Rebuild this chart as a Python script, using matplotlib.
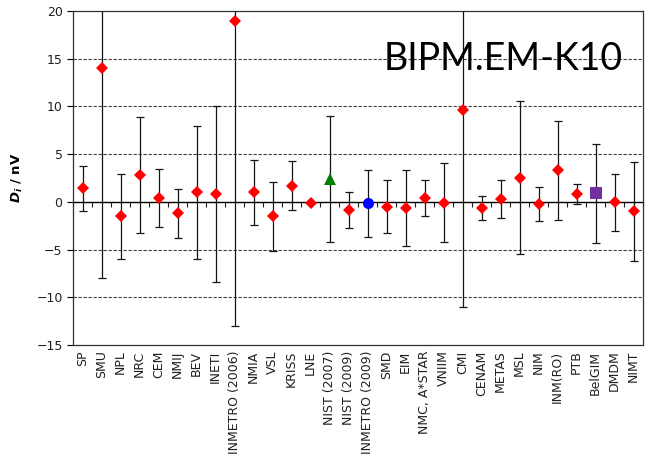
import numpy as np
import matplotlib
matplotlib.use('Agg')
import matplotlib.pyplot as plt

# lab names, degrees of equivalence and expanded uncertainties (nV)
labs = ['SP', 'SMU', 'NPL', 'NRC', 'CEM', 'NMIJ', 'BEV', 'INETI', 'INMETRO (2006)',
        'NMIA', 'VSL', 'KRISS', 'LNE', 'NIST (2007)', 'NIST (2009)', 'INMETRO (2009)',
        'SMD', 'EIM', 'NMC, A*STAR', 'VNIIM', 'CMI', 'CENAM', 'METAS', 'MSL', 'NIM',
        'INM(RO)', 'PTB', 'BelGIM', 'DMDM', 'NIMT']
di = [1.4, 14.0, -1.5, 2.8, 0.4, -1.2, 1.0, 0.8, 19.0,
      1.0, -1.5, 1.7, -0.1, 2.4, -0.85, -0.15,
      -0.5, -0.65, 0.4, -0.1, 9.6, -0.65, 0.3, 2.55, -0.2,
      3.3, 0.8, 0.9, -0.05, -1.0]
U = [2.4, 22.0, 4.45, 6.1, 3.0, 2.55, 7.0, 9.2, 32.0,
     3.4, 3.6, 2.6, 0.0, 6.6, 1.9, 3.5,
     2.8, 4.0, 1.9, 4.15, 20.6, 1.3, 2.0, 8.0, 1.8,
     5.2, 1.05, 5.2, 3.0, 5.2]

# labs drawn with their own symbol
special = {'NIST (2007)': ('^', '#008000'),
           'INMETRO (2009)': ('o', '#0000FF'),
           'BelGIM': ('s', '#7030A0')}

x = np.arange(len(labs))
di = np.array(di)

fig = plt.figure(figsize=(6.49, 4.58), dpi=100)
ax = fig.add_axes([73 / 649, 113 / 458, 570 / 649, 334 / 458])

ax.errorbar(x, di, yerr=U, fmt='none', ecolor='#151515', elinewidth=0.9,
            capsize=3.0, capthick=0.9, zorder=3)

normal = [i for i, l in enumerate(labs) if l not in special]
ax.plot(x[normal], di[normal], 'D', color='#FF0000', markersize=6.5,
        markeredgewidth=0, zorder=4)
for name, (m, c) in special.items():
    i = labs.index(name)
    ax.plot(x[i], di[i], m, color=c, markersize=8, markeredgewidth=0, zorder=4)

ax.set_xlim(-0.5, len(labs) - 0.5)
ax.set_ylim(-15, 20)
ax.set_yticks(np.arange(-15, 21, 5))
for v in [15, 10, 5, -5, -10]:
    ax.axhline(v, color='#404040', lw=0.8, ls=(0, (3, 1.5)), zorder=1)

ax.set_xticks(x)
ax.set_xticklabels(labs, rotation=90, fontsize=9, color='#202020')
ax.tick_params(axis='x', length=0, pad=4)
ax.tick_params(axis='y', length=4, direction='out', labelsize=9,
               labelcolor='#202020', width=0.8)
for s in ax.spines.values():
    s.set_color('#303030')
    s.set_linewidth(0.9)

# axis line through zero with ticks between categories
ymin, ymax = ax.get_ylim()
sec = ax.secondary_xaxis((0 - ymin) / (ymax - ymin))
sec.set_alignment('bottom')
sec.set_xticks(np.arange(-0.5, len(labs), 1))
sec.tick_params(axis='x', which='both', length=3.5, direction='out', width=0.8,
                bottom=True, top=False,
                labelbottom=False, labeltop=False, color='#202020')
sec.spines['bottom'].set_color('black')
sec.spines['bottom'].set_linewidth(1.0)

ax.set_ylabel(r'$\mathbfit{D}_\mathbfit{i}$ / nV', fontsize=9.5,
              fontweight='bold', labelpad=8)

ax.text(0.965, 0.823, 'BIPM.EM-K10', transform=ax.transAxes, ha='right',
        va='baseline', fontsize=27, family='Lato', color='black')

plt.savefig('out.png', dpi=100)
